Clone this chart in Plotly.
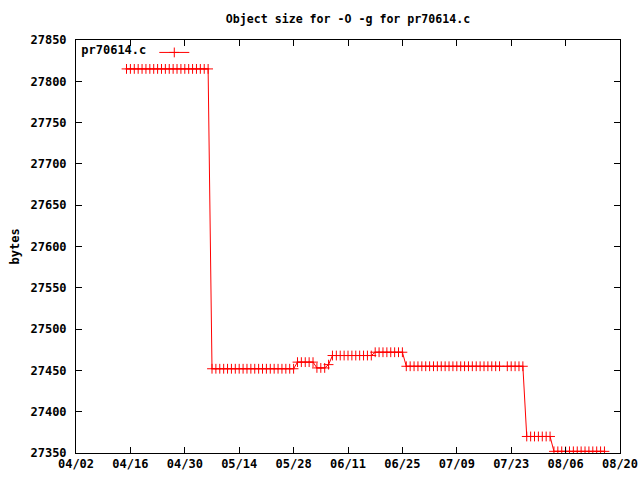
import plotly.graph_objects as go
import pandas as pd

YEAR = "2016"
day_labels = [
    "04/15", "04/16", "04/17", "04/18", "04/19", "04/20", "04/21", "04/22", "04/23", "04/24", "04/25",
    "04/26", "04/27", "04/28", "04/29", "04/30", "05/01", "05/02", "05/03", "05/04", "05/05", "05/06",
    "05/07", "05/08", "05/09", "05/10", "05/11", "05/12", "05/13", "05/14", "05/15", "05/16", "05/17",
    "05/18", "05/19", "05/20", "05/21", "05/22", "05/23", "05/24", "05/25", "05/26", "05/27", "05/28",
    "05/29", "05/30", "05/31", "06/01", "06/02",
    "06/03", "06/04", "06/05", "06/06",
    "06/07", "06/08", "06/09", "06/10", "06/11", "06/12", "06/13", "06/14", "06/15", "06/16", "06/17",
    "06/18", "06/19", "06/20", "06/21", "06/22", "06/23", "06/24", "06/25",
    "06/26", "06/27", "06/28", "06/29", "06/30", "07/01", "07/02", "07/03", "07/04", "07/05", "07/06",
    "07/07", "07/08", "07/09", "07/10", "07/11", "07/12", "07/13", "07/14", "07/15", "07/16", "07/17",
    "07/18", "07/19", "07/20", "07/22", "07/23", "07/24", "07/25", "07/26",
    "07/27", "07/28", "07/29", "07/30", "07/31", "08/01", "08/02",
    "08/03", "08/04", "08/05", "08/06", "08/07", "08/08", "08/09", "08/10", "08/11", "08/12", "08/13",
    "08/14", "08/15", "08/16",
]
sizes = [
    27815, 27815, 27815, 27815, 27815, 27815, 27815, 27815, 27815, 27815, 27815,
    27815, 27815, 27815, 27815, 27815, 27815, 27815, 27815, 27815, 27815, 27815,
    27452, 27452, 27452, 27452, 27452, 27452, 27452, 27452, 27452, 27452, 27452,
    27452, 27452, 27452, 27452, 27452, 27452, 27452, 27452, 27452, 27452, 27452,
    27460, 27460, 27460, 27460, 27460,
    27453, 27453, 27453, 27457,
    27468, 27468, 27468, 27468, 27468, 27468, 27468, 27468, 27468, 27468, 27468,
    27472, 27472, 27472, 27472, 27472, 27472, 27472, 27472,
    27455, 27455, 27455, 27455, 27455, 27455, 27455, 27455, 27455, 27455, 27455,
    27455, 27455, 27455, 27455, 27455, 27455, 27455, 27455, 27455, 27455, 27455,
    27455, 27455, 27455, 27455, 27455, 27455, 27455, 27455,
    27370, 27370, 27370, 27370, 27370, 27370, 27370,
    27352, 27352, 27352, 27352, 27352, 27352, 27352, 27352, 27352, 27352, 27352,
    27352, 27352, 27352,
]
x_range = ["04/02", "08/20"]
y_ticks = [27350, 27400, 27450, 27500, 27550, 27600, 27650, 27700, 27750, 27800, 27850]
series_name = "pr70614.c"
title_text = "Object size for -O -g for pr70614.c"
y_title = "bytes"

dates = pd.to_datetime([YEAR + "/" + d for d in day_labels], format="%Y/%m/%d")
xr = [pd.Timestamp(YEAR + "/" + d) for d in x_range]

FONT = dict(family="DejaVu Sans Mono", size=12, color="black", weight="bold")
TFONT = dict(family="DejaVu Sans Mono", size=11.6, color="black", weight="bold")

fig = go.Figure()
fig.add_trace(go.Scatter(
    x=dates, y=sizes, mode="lines+markers", name=" ",
    line=dict(color="#ff0000", width=1),
    marker=dict(symbol="cross-thin", size=7, line=dict(color="#ff0000", width=1), color="#ff0000"),
))

fig.update_layout(
    width=640, height=480, autosize=False,
    margin=dict(l=76, r=20, t=40, b=27, autoexpand=False),
    paper_bgcolor="white", plot_bgcolor="white",
    font=FONT,
    title=dict(text=title_text, x=0.5, xref="paper", xanchor="center",
               y=1 - 19 / 480, yref="container", yanchor="middle", font=TFONT, automargin=False),
    showlegend=True,
    legend=dict(x=0.006, y=1.005, xanchor="left", yanchor="top",
                bgcolor="rgba(0,0,0,0)", borderwidth=0,
                title=dict(text=series_name, side="left", font=FONT),
                font=FONT, itemwidth=30, tracegroupgap=0),
    annotations=[dict(text=y_title, x=0, xref="paper", xshift=-62, y=0.5, yref="paper",
                      textangle=-90, showarrow=False, font=FONT, xanchor="center", yanchor="middle")],
)
fig.update_xaxes(
    type="date", range=xr, tickformat="%m/%d", dtick=14 * 86400000, tick0=xr[0],
    showgrid=False, zeroline=False, showline=True, linecolor="black", linewidth=1,
    mirror="ticks", ticks="inside", ticklen=6, tickcolor="black", tickfont=FONT,
    automargin=False,
)
fig.update_yaxes(
    range=[y_ticks[0], y_ticks[-1]], tickvals=y_ticks, tickformat="d",
    showgrid=False, zeroline=False, showline=True, linecolor="black", linewidth=1,
    mirror="ticks", ticks="inside", ticklen=6, tickcolor="black", tickfont=FONT,
    ticklabelstandoff=6, automargin=False,
)
fig.write_html("out.html", config={"displayModeBar": False},
               post_script="document.body.style.margin='0';document.body.style.overflow='hidden';")
